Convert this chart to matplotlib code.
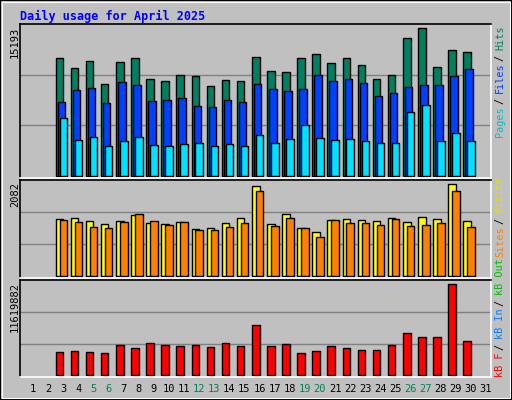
import matplotlib
matplotlib.use("Agg")
import matplotlib.pyplot as plt
from matplotlib.patches import Rectangle
import numpy as np

days = list(range(1, 32))
weekend = [5, 6, 12, 13, 19, 20, 26, 27]
bar_days = list(range(3, 31))
hits = [12163, 11127, 11850, 9474, 11747, 12163, 9991, 9784, 10404, 10301, 9267, 9887, 9784, 12266,
        10817, 10714, 12163, 12576, 11644, 12163, 11437, 9991, 10404, 14124, 15193, 11230, 12886, 12680]
files = [7613, 8854, 9060, 7510, 9680, 9370, 7717, 7820, 8027, 7200, 7097, 7820, 7613, 9474,
         8957, 8750, 8957, 10404, 9784, 9991, 9577, 8234, 8544, 9164, 9370, 9370, 10301, 11024]
pages = [5960, 3686, 3996, 3066, 3583, 3996, 3169, 3066, 3273, 3376, 3066, 3273, 3066, 4203,
         3376, 3790, 5236, 3893, 3686, 3790, 3583, 3376, 3376, 6580, 7303, 3583, 4410, 3583]
visits = [1290, 1312, 1245, 1177, 1245, 1380, 1199, 1177, 1222, 1064, 1086, 1199, 1312, 2037,
          1177, 1403, 1086, 996, 1267, 1290, 1267, 1245, 1312, 1222, 1335, 1290, 2082, 1245]
sites = [1267, 1222, 1109, 1086, 1222, 1403, 1245, 1154, 1222, 1041, 1041, 1109, 1199, 1923,
         1131, 1312, 1086, 883, 1267, 1199, 1199, 1154, 1290, 1131, 1154, 1199, 1923, 1109]
kbytes = [2968560, 3095800, 2968560, 2841000, 3859000, 3477000, 4113600, 3859000, 3731900, 3859000,
          3604700, 4113600, 3731900, 6403600, 3731900, 3986400, 2841000, 3095800, 3731900, 3477000,
          3223000, 3223000, 3859000, 5385800, 4876900, 4876900, 11619882, 4368000]
max_hits, max_visits, max_kb = 15193, 2082, 11619882

W, H = 512, 400
BG = "#C0C0C0"
fig = plt.figure(figsize=(W / 100, H / 100), dpi=100, facecolor=BG)

def rect(x, y, w, h):
    return [x / W, 1 - (y + h) / H, w / W, h / H]

fig.patches.append(Rectangle((0, 0), 1, 1, transform=fig.transFigure, fill=False, ec="black", lw=1.5))
fig.patches.append(Rectangle((2 / W, 2 / H), 1 - 4 / W, 1 - 4 / H, transform=fig.transFigure, fill=False, ec="white", lw=0.8))

mono = "DejaVu Sans Mono"
fig.text(20 / W, 1 - 16 / H, "Daily usage for April 2025", color="#0000FF", family=mono,
         weight="bold", fontsize=8.5, va="center", ha="left")

x = np.array(bar_days, dtype=float)
bw = 0.5
xlim = (0.14, 31.33)

def setup(ax, top):
    ax.set_facecolor(BG)
    ax.set_xlim(*xlim)
    for t in (top / 3, 2 * top / 3):
        ax.axhline(t, color="#808080", lw=1, zorder=0)
    ax.set_yticks([])
    ax.set_xticks([])
    ax.spines["left"].set_color("black")
    ax.spines["top"].set_color("black")
    ax.spines["right"].set_color("white")
    ax.spines["bottom"].set_color("white")
    for s in ax.spines.values():
        s.set_linewidth(1.2)

kw = dict(width=bw, align="edge", edgecolor="black", linewidth=1)

ax1 = fig.add_axes(rect(20, 24, 471, 154))
top1 = max_hits * 151 / 147
setup(ax1, top1)
ax1.set_ylim(-max_hits * 2 / 147, top1)
ax1.bar(x - 0.5, hits, color="#008060", **kw)
ax1.bar(x - 0.37, files, color="#0040FF", **kw)
ax1.bar(x - 0.24, pages, color="#00E0FF", **kw)

ax2 = fig.add_axes(rect(20, 180, 471, 98))
top2 = max_visits * 95.6 / 92
setup(ax2, top2)
ax2.set_ylim(-max_visits * 1.7 / 92, top2)
ax2.bar(x - 0.5, visits, color="#FFFF00", **kw)
ax2.bar(x - 0.24, sites, color="#FF8000", **kw)

ax3 = fig.add_axes(rect(20, 280, 471, 97))
top3 = max_kb * 95 / 91.4
setup(ax3, top3)
ax3.set_ylim(-max_kb * 1.5 / 91.4, top3)
ax3.bar(x - 0.5, kbytes, color="#FF0000", **kw)

for d in days:
    px = 33 + (d - 1) * 15.1
    fig.text(px / W, 1 - 389 / H, str(d), ha="center", va="center", family=mono, fontsize=7.5,
             color="#008060" if d in weekend else "black")

fig.text(15 / W, 1 - 27 / H, str(max_hits), rotation=90, ha="center", va="top", family=mono, fontsize=7.5)
fig.text(15 / W, 1 - 182 / H, str(max_visits), rotation=90, ha="center", va="top", family=mono, fontsize=7.5)
fig.text(15 / W, 1 - 282 / H, str(max_kb), rotation=90, ha="center", va="top", family=mono, fontsize=7.5)

def vlabel(parts, bottom, step=5.45):
    idx = 0
    for i, (txt, col) in enumerate(parts):
        if i > 0:
            y = bottom - (idx + 1) * step
            fig.text(500 / W, 1 - y / H, "/", rotation=90, ha="center", va="bottom", family=mono,
                     fontsize=7.3, color="black")
            idx += 3
        y = bottom - idx * step
        fig.text(500 / W, 1 - y / H, txt, rotation=90, ha="center", va="bottom", family=mono,
                 fontsize=7.3, color=col)
        idx += len(txt)

vlabel([("Pages", "#00C0C8"), ("Files", "#0040FF"), ("Hits", "#008060")], 137)
vlabel([("Sites", "#FF8000"), ("Visits", "#E0E000")], 257)
vlabel([("kB F", "#FF0000"), ("kB In", "#0080FF"), ("kB Out", "#00C000")], 377)

fig.savefig("out.png", dpi=100, facecolor=BG)
